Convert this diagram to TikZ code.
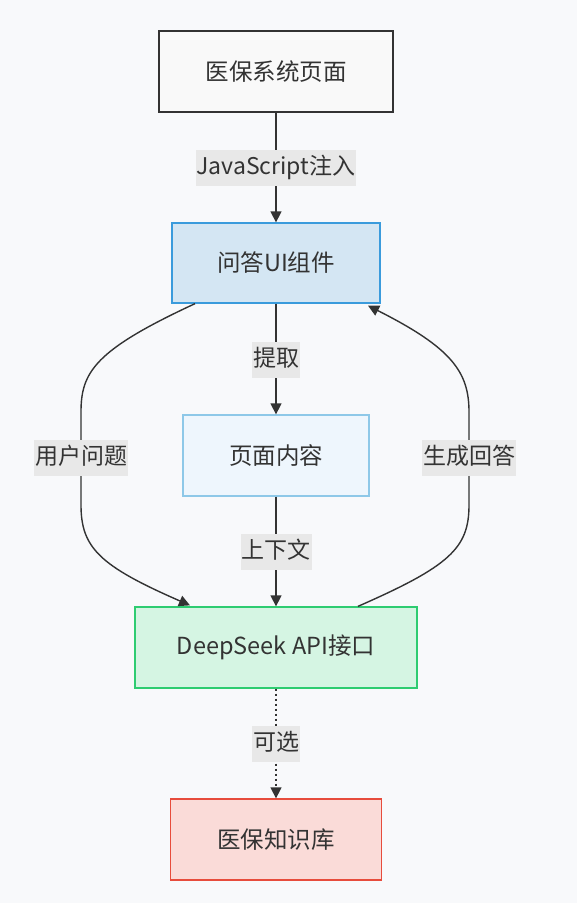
\documentclass[tikz,border=0pt]{standalone}
\usepackage{fontspec}
\setmainfont{Noto Sans CJK SC}
\usetikzlibrary{arrows.meta,calc}
\definecolor{bg}{HTML}{F8F9FB}
\definecolor{ink}{HTML}{333333}
\definecolor{afill}{HTML}{F9F9F9}
\definecolor{bfill}{HTML}{D4E6F3}
\definecolor{bline}{HTML}{3A9BDC}
\definecolor{cfill}{HTML}{EEF6FD}
\definecolor{cline}{HTML}{8EC8E8}
\definecolor{dfill}{HTML}{D5F5E3}
\definecolor{dline}{HTML}{2ECC71}
\definecolor{efill}{HTML}{FADBD8}
\definecolor{eline}{HTML}{E74C3C}
\definecolor{lblfill}{HTML}{E8E8E8}
\tikzset{
  box/.style={draw, line width=1.3pt, inner sep=0pt, minimum height=81pt, text=ink, font=\fontsize{23.5}{28}\selectfont},
  lbl/.style={fill=lblfill, inner xsep=1pt, inner ysep=6.5pt, text height=18pt, text depth=5pt, text=ink, font=\fontsize{23}{28}\selectfont},
  conn/.style={draw=ink, line width=1.4pt, -{Triangle[length=11pt,width=11pt]}},
}
\begin{document}
\begin{tikzpicture}[x=1pt,y=-1pt]
\fill[bg] (0,0) rectangle (577,903);
\useasboundingbox (0,0) rectangle (577,903);
\node[box, draw=ink, fill=afill, minimum width=234pt] (A) at (276,71.5) {医保系统页面};
\node[box, draw=bline, fill=bfill, minimum width=208pt, minimum height=80pt] (B) at (276,263) {问答UI组件};
\node[box, draw=cline, fill=cfill, minimum width=186pt] (C) at (276,455.5) {页面内容};
\node[box, draw=dline, fill=dfill, minimum width=282pt] (D) at (276,647.5) {DeepSeek API接口};
\node[box, draw=eline, fill=efill, minimum width=211pt] (E) at (276,839.5) {医保知识库};
% connectors
\draw[conn] (A.south) -- (B.north);
\draw[conn] (B.south) -- (C.north);
\draw[conn] (C.south) -- (D.north);
\draw[conn, dash pattern=on 2.5pt off 2.5pt] (D.south) -- (E.north);
\draw[conn] ($(B.south)+(-81,0)$) .. controls (95,350) and (81,372) .. (81,412) -- (81,505) .. controls (81,548) and (100,566) .. ($(D.north)+(-86,-1)$);
\draw[conn] ($(D.north)+(82,0)$) .. controls (450,566) and (469,548) .. (469,505) -- (469,412) .. controls (469,372) and (452,348) .. ($(B.south)+(92,2)$);
% labels
\node[lbl] (l1) at (276,168) {JavaScript注入};
\node[lbl] (l2) at (276,360) {提取};
\node[lbl] (l3) at (276,552) {上下文};
\node[lbl] (l4) at (276,744) {可选};
\node[lbl] (l5) at (81,458) {用户问题};
\node[lbl] (l6) at (469,458) {生成回答};
\end{tikzpicture}
\end{document}
